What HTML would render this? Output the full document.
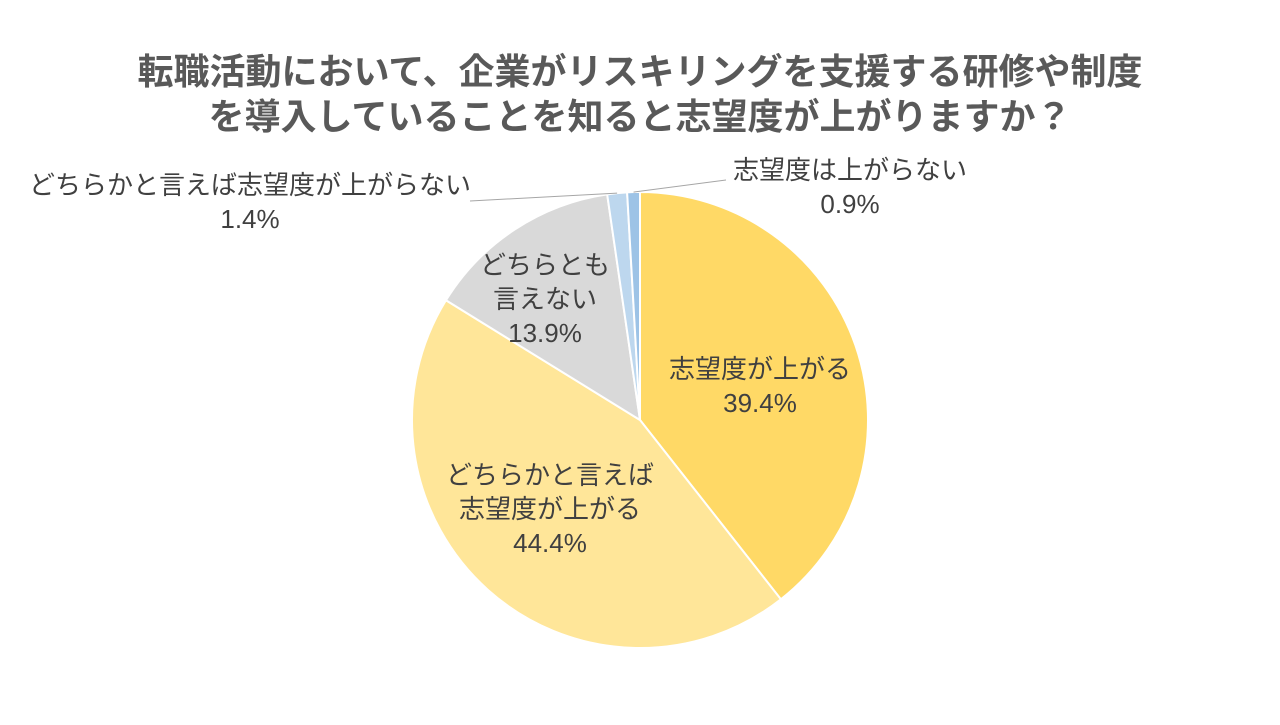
<!DOCTYPE html>
<html><head><meta charset="utf-8">
<style>
html,body{margin:0;padding:0;background:#fff;}
body{width:1280px;height:720px;overflow:hidden;font-family:"Liberation Sans","Noto Sans CJK JP",sans-serif;}
</style></head>
<body>
<svg width="1280" height="720" viewBox="0 0 1280 720">
<text x="640" y="84" text-anchor="middle" font-size="36" font-weight="bold" fill="#595959" font-family="Liberation Sans, Noto Sans CJK JP, sans-serif">転職活動において、企業がリスキリングを支援する研修や制度</text>
<text x="640" y="129" text-anchor="middle" font-size="36" font-weight="bold" fill="#595959" font-family="Liberation Sans, Noto Sans CJK JP, sans-serif">を導入していることを知ると志望度が上がりますか？</text>
<g id="slices"></g>
<g id="labels" font-family="Liberation Sans, Noto Sans CJK JP, sans-serif" font-size="26" fill="#404040" text-anchor="middle"></g>
</svg>
<script>
const categories = ["志望度が上がる","どちらかと言えば志望度が上がる","どちらとも言えない","どちらかと言えば志望度が上がらない","志望度は上がらない"];
const values = [39.4, 44.4, 13.9, 1.4, 0.9];
const valueLabels = ["39.4%","44.4%","13.9%","1.4%","0.9%"];
const colors = ["#FFD966","#FFE699","#D9D9D9","#BDD7EE","#9DC3E6"];
const labelLines = [["志望度が上がる"],["どちらかと言えば","志望度が上がる"],["どちらとも","言えない"],["どちらかと言えば志望度が上がらない"],["志望度は上がらない"]];
const labelPos = [[760,378],[550,484],[545,274],[250,194],[850,179]];
const cx=640, cy=420, r=228;
const ns="http://www.w3.org/2000/svg";
const total = values.reduce((a,b)=>a+b,0);
function pt(frac,rad){const a=frac*2*Math.PI;return [cx+rad*Math.sin(a), cy-rad*Math.cos(a)];}
const gS=document.getElementById('slices'), gL=document.getElementById('labels');
let acc=0;
values.forEach((v,i)=>{
  const f0=acc/total, f1=(acc+v)/total; acc+=v;
  const p0=pt(f0,r), p1=pt(f1,r);
  const large=(f1-f0)>0.5?1:0;
  const path=document.createElementNS(ns,'path');
  path.setAttribute('d',`M${cx},${cy} L${p0[0]},${p0[1]} A${r},${r} 0 ${large} 1 ${p1[0]},${p1[1]} Z`);
  path.setAttribute('fill',colors[i]);
  path.setAttribute('stroke','#fff');
  path.setAttribute('stroke-width','2');
  
  
  gS.appendChild(path);
  const lines=labelLines[i].concat([valueLabels[i]]);
  const [lx,ly]=labelPos[i];
  lines.forEach((t,j)=>{
    const tx=document.createElementNS(ns,'text');
    tx.setAttribute('x',lx); tx.setAttribute('y',ly+j*34);
    tx.textContent=t;
    
    
    gL.appendChild(tx);
  });
  if(i>=3){
    const mid=pt((f0+f1)/2,r);
    const ln=document.createElementNS(ns,'line');
    const ex = i===3 ? 470 : 726, ey = i===3 ? 201 : 180;
    ln.setAttribute('x1',mid[0]); ln.setAttribute('y1',mid[1]);
    ln.setAttribute('x2',ex); ln.setAttribute('y2',ey);
    ln.setAttribute('stroke','#A6A6A6'); ln.setAttribute('stroke-width','1');
    
    
    gS.appendChild(ln);
  }
});
</script>
</body></html>
